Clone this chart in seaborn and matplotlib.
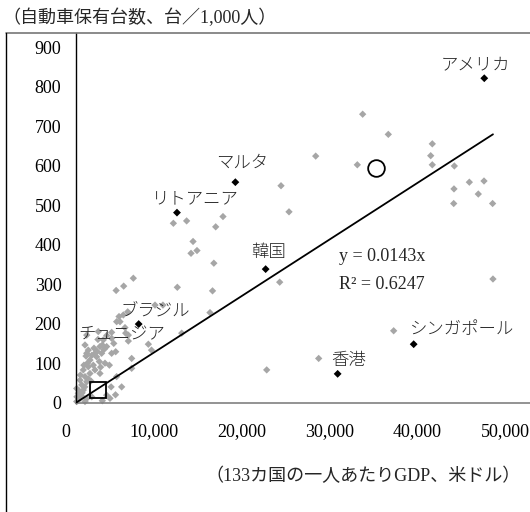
import numpy as np
import pandas as pd
import matplotlib
matplotlib.use("Agg")
import matplotlib.pyplot as plt
import matplotlib.transforms as mtransforms
from matplotlib.lines import Line2D
import seaborn as sns

# Per-capita GDP (USD) and cars per 1,000 people for the unlabeled countries
other_gdp = [
    32650, 35570, 40580, 40400, 40580, 43090, 27300, 32040, 23350, 24260,
    44800, 46470, 43050, 45820, 43020, 47450, 47490, 23200, 36180, 27640,
    21720, 11090, 12600, 16740, 15910, 13330, 13100, 13780, 15700, 11540,
    15550, 15260, 12040,
    6530, 5430, 4570, 9000, 9900, 5890, 4900, 5390, 5010, 4630,
    5580, 5660, 5960, 4060, 4060, 5960, 8240, 3000, 2540, 1220,
    1220, 2160, 6340, 5200, 3870, 4630, 3800, 4060, 1140, 1400,
    2730, 3110, 1025, 2050, 3490, 2920, 4520, 2350, 1590, 2660,
    3300, 1970, 1400, 830, 2160, 1590, 1025, 2730, 460, 1220,
    650, 80, 830, 260, 100, 460, 80, 1025, 6340, 1790,
    3490, 8600,
    300, 600, 1200, 350, 700, 1000, 1400, 1700, 500, 900,
    1300, 1800, 2400, 3200, 2800, 2500, 3500, 4300,
    4000, 4500, 3000,
]
other_cars = [
    730, 679, 655, 625, 602, 599, 624, 602, 549, 483,
    558, 561, 541, 528, 504, 504, 313, 305, 182, 112,
    83, 454, 460, 471, 445, 408, 378, 385, 353, 292,
    283, 228, 176,
    315, 295, 284, 247, 247, 230, 218, 222, 205, 205,
    190, 176, 171, 178, 163, 156, 148, 146, 180, 171,
    125, 125, 112, 40, 11, 66, 95, 125, 118, 133,
    142, 159, 146, 138, 142, 125, 129, 116, 108, 104,
    100, 95, 91, 83, 83, 74, 66, 74, 57, 53,
    45, 36, 32, 24, 15, 11, 3, 3, 87, 15,
    19, 133,
    10, 18, 10, 30, 25, 40, 60, 55, 70, 95,
    100, 120, 130, 135, 90, 160, 170, 150,
    40, 20, 5,
]

# Highlighted countries
named_countries = ["アメリカ", "マルタ", "リトアニア", "韓国", "ブラジル", "シンガポール", "香港"]
named_gdp = [46500, 18150, 11500, 21600, 7140, 38460, 29800]
named_cars = [821, 558, 481, 338, 199, 148, 73]

# Hollow markers
circle_gdp = [34170]
circle_cars = [595]
square_gdp = [2540]
square_cars = [32]
square_label = "チュニジア"

# Fitted trend through the origin
slope = 0.0143
r_squared = 0.6247

x_ticks = [0, 10000, 20000, 30000, 40000, 50000]
y_ticks = [0, 100, 200, 300, 400, 500, 600, 700, 800, 900]

title_text = "（自動車保有台数、台／1,000人）"
xlabel_text = "（133カ国の一人あたりGDP、米ドル）"

sns.set_style("white")
plt.rcParams["font.family"] = ["Liberation Serif", "Noto Sans CJK JP"]

W, H = 530, 512
fig = plt.figure(figsize=(W / 100, H / 100), dpi=100)
ax_left, ax_right, ax_top, ax_bottom = 76, 530, 33, 402.7
ax = fig.add_axes([ax_left / W, 1 - ax_bottom / H,
                   (ax_right - ax_left) / W, (ax_bottom - ax_top) / H])

gray = "#a6a6a6"
others = pd.DataFrame({"gdp": other_gdp, "cars": other_cars})
named = pd.DataFrame({"gdp": named_gdp, "cars": named_cars, "country": named_countries})

sns.scatterplot(data=others, x="gdp", y="cars", ax=ax, marker="D", s=14,
                color=gray, edgecolor="none", linewidth=0, clip_on=False, zorder=2)

# Trend line from the origin to the largest GDP value
all_gdp = np.array(other_gdp + named_gdp + circle_gdp)
line_x = np.array([0.0, all_gdp.max()])
trend = pd.DataFrame({"gdp": line_x, "cars": slope * line_x})
sns.lineplot(data=trend, x="gdp", y="cars", ax=ax, color="black", linewidth=1.3, zorder=3)

sns.scatterplot(data=named, x="gdp", y="cars", ax=ax, marker="D", s=16,
                color="black", edgecolor="none", linewidth=0, zorder=4)

ax.plot(circle_gdp, circle_cars, marker="o", ms=12, mfc="white", mec="black",
        mew=1.3, linestyle="none", zorder=5)
ax.plot(square_gdp, square_cars, marker="s", ms=12, mfc="none", mec="black",
        mew=1.3, linestyle="none", zorder=5)

jp_font = dict(family=["Noto Sans CJK JP"], fontsize=12.5, fontweight="light")
label_offsets = {
    "アメリカ": (-6, 10),
    "マルタ": (5, 14),
    "リトアニア": (13, 10),
    "韓国": (2, 12),
    "ブラジル": (12, 10),
    "シンガポール": (35, 11),
    "香港": (8, 10),
}
for name, gx, cy in zip(named_countries, named_gdp, named_cars):
    ax.annotate(name, (gx, cy), xytext=label_offsets[name], textcoords="offset points",
                ha="center", va="center", zorder=6, **jp_font)

ax.annotate(square_label, (square_gdp[0], square_cars[0]), xytext=(17, 40),
            textcoords="offset points", ha="center", va="center", zorder=6, **jp_font)

ax.text(29950, 371, f"y = {slope}x", fontsize=13, family=["Liberation Serif"],
        va="center", ha="left")
ax.text(29950, 300, f"R² = {r_squared}", fontsize=13, family=["Liberation Serif"],
        va="center", ha="left")

ax.set_xlim(0, (ax_right - ax_left) / 87.8 * 10000)
ax.set_ylim(0, (ax_bottom - ax_top) / 0.3952)
ax.set_xticks(x_ticks)
ax.set_yticks(y_ticks)
ax.set_xticklabels([f"{v:,}" for v in x_ticks])
ax.set_yticklabels([str(v) for v in y_ticks])
ax.set_xlabel("")
ax.set_ylabel("")

for side in ("top", "right"):
    ax.spines[side].set_visible(False)
ax.spines["left"].set_color("black")
ax.spines["left"].set_linewidth(1.0)
ax.spines["bottom"].set_color("#808080")
ax.spines["bottom"].set_linewidth(1.2)

ax.tick_params(axis="both", direction="in", length=4, width=0.9, labelsize=13,
               colors="black")
ax.tick_params(axis="x", pad=15, color="#808080")
ax.tick_params(axis="y", pad=10.5)
shift = mtransforms.ScaledTranslation(-10 / 100, 0, fig.dpi_scale_trans)
for lbl in ax.get_xticklabels():
    lbl.set_transform(lbl.get_transform() + shift)

# Outer frame lines
fig.add_artist(Line2D([6 / W, 1.0], [1 - 33 / H, 1 - 33 / H], color="#777777", lw=1.2))
fig.add_artist(Line2D([6 / W, 6 / W], [0, 1 - 33 / H], color="black", lw=1.0))

fig.text(2 / W, 1 - 18 / H, title_text, fontsize=13, ha="left", va="center",
         family=["Liberation Serif", "Noto Sans CJK JP"])
fig.text(521 / W, 1 - 476 / H, xlabel_text, fontsize=13, ha="right", va="center",
         family=["Liberation Serif", "Noto Sans CJK JP"])

fig.savefig("out.png", dpi=100)
